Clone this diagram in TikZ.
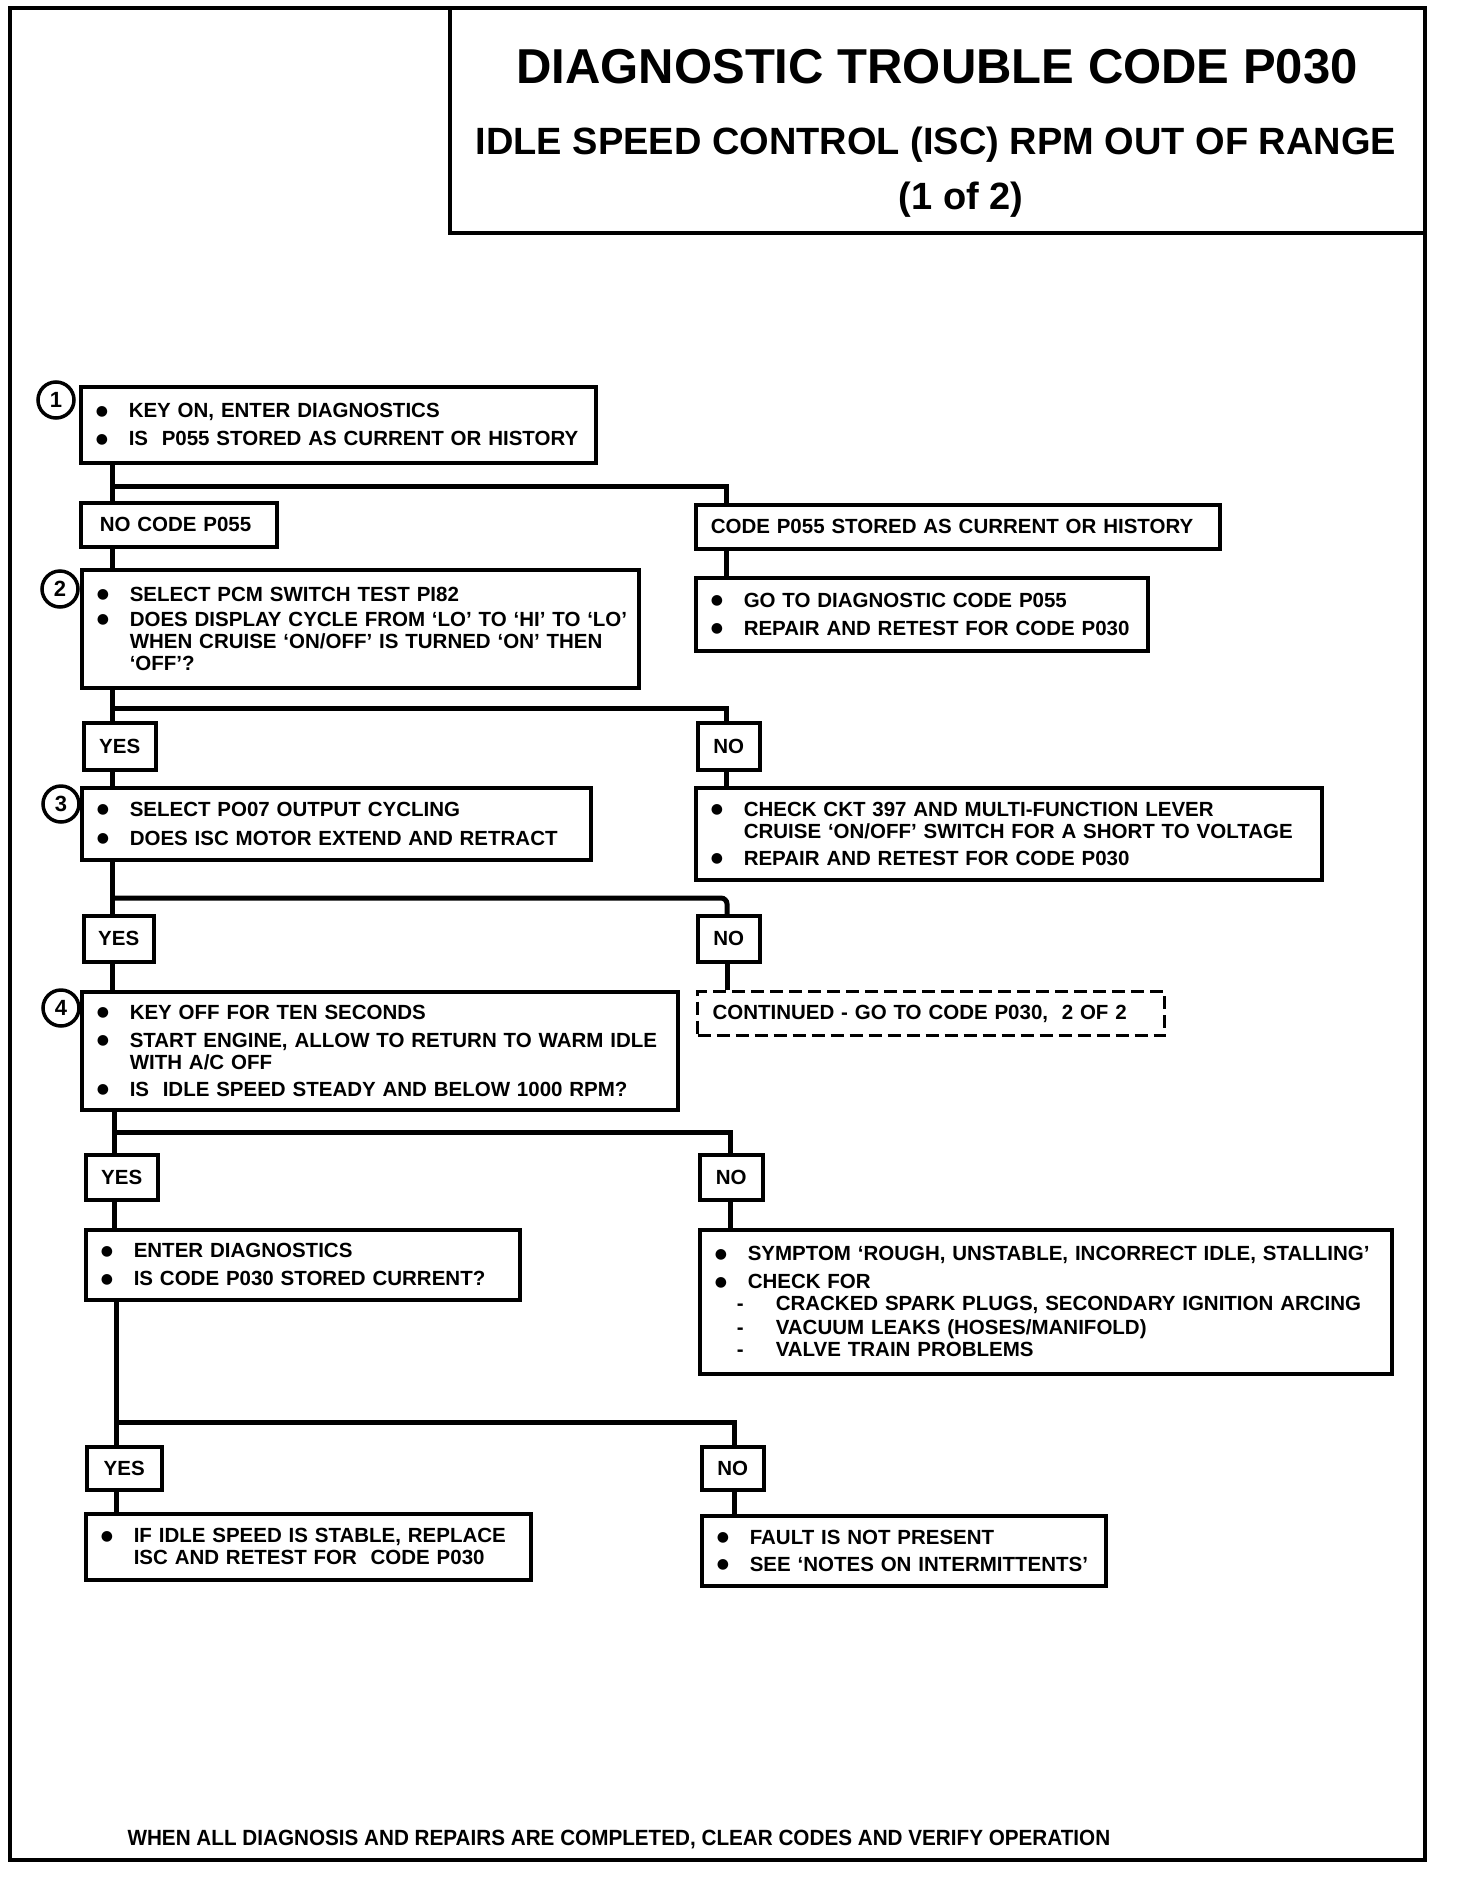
\documentclass[tikz,border=0pt]{standalone}
\usepackage{fontspec}
\setmainfont{Liberation Sans}
\newfontfamily\bodyfam{Liberation Sans}[FakeStretch=1.0]
\newfontfamily\footfam{Liberation Sans}[FakeStretch=0.94]
\newfontfamily\plainfam{Liberation Sans}
\newfontfamily\symfam{DejaVu Sans}
\newcommand\bodyf{\bodyfam\bfseries\fontsize{20.5pt}{22pt}\selectfont}
\newcommand\footf{\footfam\bfseries\fontsize{22pt}{26pt}\selectfont}
\newcommand\numf{\plainfam\bfseries\fontsize{22pt}{22pt}\selectfont}
\newcommand\bul{\makebox[33pt][l]{\symfam\fontsize{14pt}{14pt}\selectfont\raisebox{2.5pt}{●}}}
\newcommand\cnt{\hspace*{33pt}}
\newcommand\subi{\hspace*{22pt}\makebox[39pt][l]{-}}
\tikzset{
  box/.style={draw, line width=3.5pt, anchor=north west, inner xsep=15pt, inner ysep=0pt, align=left, font=\bodyf},
  lbl/.style={draw, line width=3.5pt, anchor=north west, inner sep=0pt, align=center, font=\bodyf},
  dbox/.style={box, dash pattern=on 13pt off 6pt, line width=3pt},
  conn/.style={line width=5pt},
  numc/.style={draw, circle, line width=3.5pt, minimum size=36pt, inner sep=0pt, font=\numf},
  frame/.style={line width=4pt},
}
\begin{document}
\begin{tikzpicture}[x=1pt,y=-1pt]
\useasboundingbox (0,0) rectangle (1472,1882);
% frame and title box
\draw[frame] (10,8) rectangle (1425,1860);
\draw[frame] (450,8) -- (450,233) -- (1425,233);
\node[anchor=base, font=\plainfam\bfseries\fontsize{49pt}{56pt}\selectfont] (t1) at (937,83) {DIAGNOSTIC TROUBLE CODE P030};
\node[anchor=base, font=\plainfam\bfseries\fontsize{38pt}{44pt}\selectfont] (t2) at (936,154) {IDLE SPEED CONTROL (ISC) RPM OUT OF RANGE};
\node[anchor=base, font=\plainfam\bfseries\fontsize{38pt}{44pt}\selectfont] (t3) at (961,209) {(1 of 2)};

% trunk coordinates
\coordinate (j1) at (112,486);  \coordinate (k1) at (726,486);
\coordinate (j2) at (112,708);  \coordinate (k2) at (726,708);
\coordinate (j3) at (112,898);  \coordinate (k3) at (727,898);
\coordinate (j4) at (114,1132); \coordinate (k4) at (730,1132);
\coordinate (j5) at (116,1422); \coordinate (k5) at (734,1422);

% boxes
\node[box, minimum width=515pt, minimum height=76pt, text width=485pt] (b1) at (79,385)
  {\bul\mbox{KEY ON, ENTER DIAGNOSTICS}\\[6pt]\bul\mbox{IS\ \ P055 STORED AS CURRENT OR HISTORY}};
\node[box, inner xsep=19pt, minimum width=196pt, minimum height=44pt, text width=158pt] (nocode) at (79,501)
  {\mbox{NO CODE P055}};
\node[box, minimum width=524pt, minimum height=44pt, text width=494pt] (code) at (694,503)
  {\mbox{CODE P055 STORED AS CURRENT OR HISTORY}};
\node[box, minimum width=557pt, minimum height=118pt, text width=527pt] (b2) at (80,568)
  {\bul\mbox{SELECT PCM SWITCH TEST PI82}\\[3pt]
   \bul\mbox{DOES DISPLAY CYCLE FROM ‘LO’ TO ‘HI’ TO ‘LO’}\\
   \cnt\mbox{WHEN CRUISE ‘ON/OFF’ IS TURNED ‘ON’ THEN}\\
   \cnt\mbox{‘OFF’?}};
\node[box, minimum width=452pt, minimum height=73pt, text width=422pt] (goto) at (694,576)
  {\bul\mbox{GO TO DIAGNOSTIC CODE P055}\\[6pt]\bul\mbox{REPAIR AND RETEST FOR CODE P030}};
\node[lbl, minimum width=72pt, minimum height=47pt] (yes2) at (82,721) {YES};
\node[lbl, minimum width=62pt, minimum height=47pt] (no2) at (696,721) {NO};
\node[box, minimum width=509pt, minimum height=72pt, text width=479pt] (b3) at (80,786)
  {\bul\mbox{SELECT PO07 OUTPUT CYCLING}\\[7pt]\bul\mbox{DOES ISC MOTOR EXTEND AND RETRACT}};
\node[box, minimum width=626pt, minimum height=92pt, text width=596pt] (chk) at (694,786)
  {\bul\mbox{CHECK CKT 397 AND MULTI-FUNCTION LEVER}\\
   \cnt\mbox{CRUISE ‘ON/OFF’ SWITCH FOR A SHORT TO VOLTAGE}\\[5pt]
   \bul\mbox{REPAIR AND RETEST FOR CODE P030}};
\node[lbl, minimum width=70pt, minimum height=46pt] (yes3) at (82,914) {YES};
\node[lbl, minimum width=62pt, minimum height=46pt] (no3) at (696,914) {NO};
\node[box, minimum width=596pt, minimum height=118pt, text width=566pt] (b4) at (80,990)
  {\bul\mbox{KEY OFF FOR TEN SECONDS}\\[6pt]
   \bul\mbox{START ENGINE, ALLOW TO RETURN TO WARM IDLE}\\
   \cnt\mbox{WITH A/C OFF}\\[5pt]
   \bul\mbox{IS\ \ IDLE SPEED STEADY AND BELOW 1000 RPM?}};
\node[dbox, minimum width=467pt, minimum height=44pt, text width=437pt] (cont) at (696,990)
  {\mbox{CONTINUED - GO TO CODE P030,\ \ 2 OF 2}};
\node[lbl, minimum width=72pt, minimum height=45pt] (yes4) at (84,1153) {YES};
\node[lbl, minimum width=63pt, minimum height=45pt] (no4) at (698,1153) {NO};
\node[box, minimum width=434pt, minimum height=70pt, text width=404pt] (enter) at (84,1228)
  {\bul\mbox{ENTER DIAGNOSTICS}\\[6pt]\bul\mbox{IS CODE P030 STORED CURRENT?}};
\node[box, minimum width=692pt, minimum height=144pt, text width=662pt] (symp) at (698,1228)
  {\bul\mbox{SYMPTOM ‘ROUGH, UNSTABLE, INCORRECT IDLE, STALLING’}\\[6pt]
   \bul\mbox{CHECK FOR}\\
   \subi\mbox{CRACKED SPARK PLUGS, SECONDARY IGNITION ARCING}\\[2pt]
   \subi\mbox{VACUUM LEAKS (HOSES/MANIFOLD)}\\
   \subi\mbox{VALVE TRAIN PROBLEMS}};
\node[lbl, minimum width=75pt, minimum height=43pt] (yes5) at (85,1445) {YES};
\node[lbl, minimum width=62pt, minimum height=43pt] (no5) at (700,1445) {NO};
\node[box, minimum width=445pt, minimum height=66pt, text width=415pt] (ifb) at (84,1512)
  {\bul\mbox{IF IDLE SPEED IS STABLE, REPLACE}\\
   \cnt\mbox{ISC AND RETEST FOR\ \ CODE P030}};
\node[box, minimum width=404pt, minimum height=70pt, text width=374pt] (fault) at (700,1514)
  {\bul\mbox{FAULT IS NOT PRESENT}\\[5pt]\bul\mbox{SEE ‘NOTES ON INTERMITTENTS’}};

% step numbers
\node[numc] (n1) at (56,400) {1};
\node[numc] (n2) at (60,589) {2};
\node[numc] (n3) at (61,804) {3};
\node[numc] (n4) at (61,1008) {4};

% connectors
\draw[conn] (b1.south -| j1) -- (nocode.north -| j1);
\draw[conn] (j1) -- (k1) -- (code.north -| k1);
\draw[conn] (nocode.south -| j1) -- (b2.north -| j1);
\draw[conn] (code.south -| k1) -- (goto.north -| k1);

\draw[conn] (b2.south -| j2) -- (yes2.north -| j2);
\draw[conn] (j2) -- (k2) -- (no2.north -| k2);
\draw[conn] (yes2.south -| j2) -- (b3.north -| j2);
\draw[conn] (no2.south -| k2) -- (chk.north -| k2);

\draw[conn] (b3.south -| j3) -- (yes3.north -| j3);
\draw[conn, rounded corners=6pt] (j3) -- (k3) -- (no3.north -| k3);
\draw[conn] (yes3.south -| j3) -- (b4.north -| j3);
\draw[conn] (no3.south -| k3) -- (cont.north -| k3);

\draw[conn] (b4.south -| j4) -- (yes4.north -| j4);
\draw[conn] (j4) -- (k4) -- (no4.north -| k4);
\draw[conn] (yes4.south -| j4) -- (enter.north -| j4);
\draw[conn] (no4.south -| k4) -- (symp.north -| k4);

\draw[conn] (enter.south -| j5) -- (yes5.north -| j5);
\draw[conn] (j5) -- (k5) -- (no5.north -| k5);
\draw[conn] (yes5.south -| j5) -- (ifb.north -| j5);
\draw[conn] (no5.south -| k5) -- (fault.north -| k5);

% footer
\node[anchor=base west, font=\footf] (foot) at (124,1845)
  {WHEN ALL DIAGNOSIS AND REPAIRS ARE COMPLETED, CLEAR CODES AND VERIFY OPERATION};
\end{tikzpicture}
\end{document}
